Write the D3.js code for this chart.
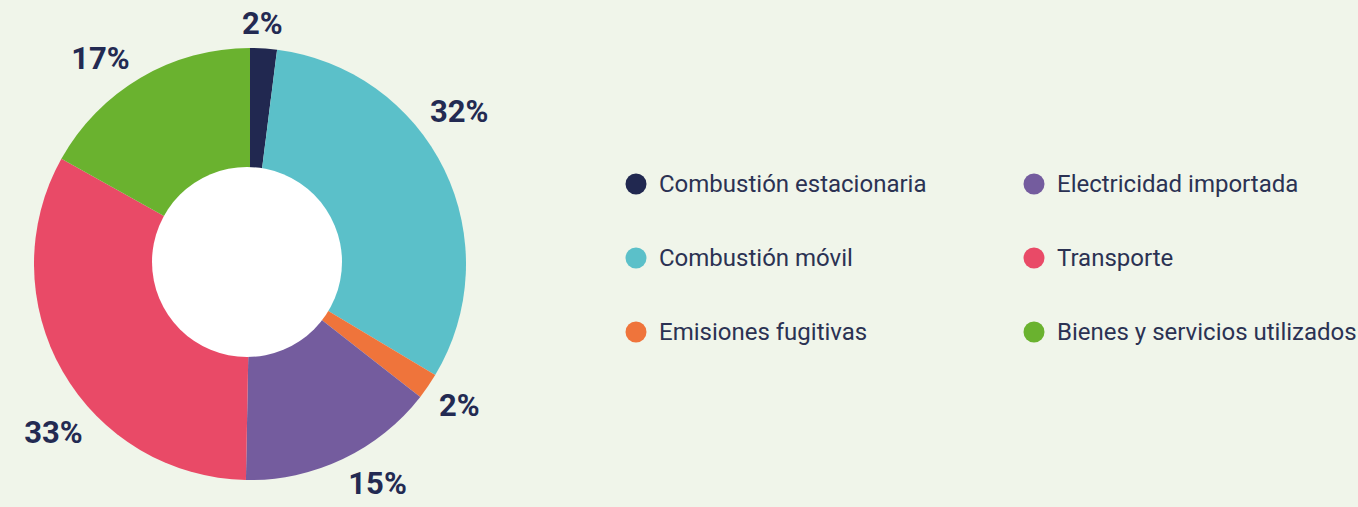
<!DOCTYPE html>
<html>
<head>
<meta charset="utf-8">
<script src="https://cdn.jsdelivr.net/npm/d3@7"></script>
<style>
  html, body { margin: 0; padding: 0; background: #f0f5ea; }
  svg { display: block; }
</style>
</head>
<body>
<div id="chart"></div>
<script>
// Emission sources (share of total, %)
const categories = [
  'Combustión estacionaria',
  'Combustión móvil',
  'Emisiones fugitivas',
  'Electricidad importada',
  'Transporte',
  'Bienes y servicios utilizados'
];
const shares = [2.0, 31.6, 1.95, 14.75, 32.8, 16.9];
const colors = ['#212850', '#5bc0c9', '#ef743b', '#745c9e', '#e94a67', '#6ab22f'];

document.addEventListener('DOMContentLoaded', function() {
  const width = 1358, height = 507;
  const cx = 250, cy = 264;
  const outerR = 216, holeR = 95, labelGap = 229;
  const textColor = '#232a52';

  const svg = d3.select('#chart').append('svg')
      .attr('width', width)
      .attr('height', height);

  let data = categories.map((c, i) => ({name: c, value: shares[i], color: colors[i]}));

  let pie = d3.pie().sort(null).value(d => d.value);
  let arc = d3.arc().innerRadius(0).outerRadius(outerR);
  let arcs = pie(data);

  let g = svg.append('g').attr('transform', 'translate(' + cx + ',' + cy + ')');

  g.selectAll('path.slice')
      .data(arcs)
      .enter().append('path')
      .attr('class', 'slice')
      .attr('fill', d => d.data.color)
      .attr('d', arc);

  // white hole in the middle
  g.append('circle')
      .attr('cx', -3)
      .attr('cy', -2)
      .attr('r', holeR)
      .attr('fill', '#ffffff');

  // percentage labels, a bit before the middle of each slice,
  // pushed out so the text box clears the ring
  let fmt = d => Math.round(d) + '%';
  let labels = g.selectAll('text.pct')
      .data(arcs)
      .enter().append('text')
      .attr('class', 'pct')
      .attr('dy', '0.36em')
      .attr('text-anchor', 'middle')
      .style('font-family', 'Roboto, sans-serif')
      .style('font-weight', '700')
      .style('font-size', '31px')
      .style('fill', textColor)
      .text(d => fmt(d.data.value));

  labels.each(function(d) {
    let w = this.getComputedTextLength();
    let h = 22;
    let a = d.startAngle + (d.endAngle - d.startAngle) * 0.41;
    let s = Math.sin(a), c = Math.cos(a);
    let r = labelGap + Math.abs(s) * w / 2 + Math.abs(c) * h / 2;
    d3.select(this).attr('x', r * s).attr('y', -r * c);
  });

  // Legend: two columns of three rows
  let rows = 3;
  let col = d3.scaleOrdinal().domain([0, 1]).range([636, 1034]);
  let row = d3.scalePoint().domain([0, 1, 2]).range([184, 332]);

  let legend = svg.append('g').attr('class', 'legend');
  let items = legend.selectAll('g.item')
      .data(data)
      .enter().append('g')
      .attr('class', 'item')
      .attr('transform', (d, i) =>
          'translate(' + col(Math.floor(i / rows)) + ',' + row(i % rows) + ')');

  items.append('circle')
      .attr('r', 10.5)
      .attr('fill', d => d.color);

  items.append('text')
      .attr('x', 23)
      .attr('dy', '0.35em')
      .style('font-family', 'Roboto, sans-serif')
      .style('font-size', '24px')
      .style('fill', '#2b3253')
      .text(d => d.name);
});
</script>
</body>
</html>
